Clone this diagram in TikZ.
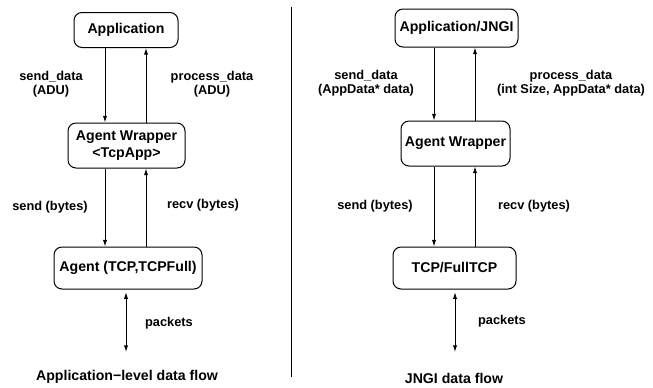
\documentclass[tikz,border=0pt]{standalone}
\usepackage{fontspec}
\setmainfont{Liberation Sans}
\usetikzlibrary{arrows.meta,calc}
\tikzset{every picture/.style={line width=0.75pt}}
\tikzset{
  blk/.style={draw, rounded corners=6pt, align=center, inner sep=1pt,
    font=\fontsize{10.6}{12.5}\selectfont\bfseries},
  lbl/.style={align=center, font=\fontsize{9.6}{10.6}\selectfont\bfseries},
  caption/.style={font=\fontsize{10.6}{12.5}\selectfont\bfseries},
  flow/.style={-{Latex[length=5pt,width=3.2pt]}},
  both/.style={{Latex[length=5pt,width=3.2pt]}-{Latex[length=5pt,width=3.2pt]}},
}

\begin{document}
\begin{tikzpicture}[x=0.75pt,y=0.75pt,yscale=-1,xscale=1]
\useasboundingbox (0,0) rectangle (653,387);

%% left side: application-level flow
% Boxes
\node[blk, minimum width=78pt, minimum height=26.25pt] (app) at (126,30) {Application};
\node[blk, minimum width=87.75pt, minimum height=33.75pt] (wrapL) at (126.5,145.5) {Agent Wrapper\\<TcpApp>};
\node[blk, minimum width=111pt, minimum height=31.5pt] (agentL) at (128,268) {Agent (TCP,TCPFull)};
\coordinate (netL) at (126,352);

% Connectors
\draw[flow] (app.south -| 105,0) -- (wrapL.north -| 105,0);
\draw[flow] (wrapL.north -| 146,0) -- (app.south -| 146,0);
\draw[flow] (wrapL.south -| 105,0) -- (agentL.north -| 105,0);
\draw[flow] (agentL.north -| 146,0) -- (wrapL.south -| 146,0);
\draw[both, shorten <=2pt] (agentL.south -| netL) -- (netL);

% Text Node
\node[lbl] (sdL) at (51,84) {send\_data\\(ADU)};
\node[lbl] (pdL) at (212,84) {process\_data\\(ADU)};
\node[lbl] (sbL) at (50,207) {send (bytes)};
\node[lbl] (rbL) at (203,205) {recv (bytes)};
\node[lbl] (pkL) at (169,323) {packets};
\node[caption] (capL) at (127,377) {Application−level data flow};

%% divider
\draw (291,7) -- (291,377);

%% right side: JNGI flow
% Boxes
\node[blk, minimum width=92.25pt, minimum height=28.5pt] (appR) at (456.5,28) {Application/JNGI};
\node[blk, minimum width=81.75pt, minimum height=33.75pt] (wrapR) at (455.5,143.5) {Agent Wrapper};
\node[blk, minimum width=92.25pt, minimum height=31.5pt] (agentR) at (454.5,268) {TCP/FullTCP};
\coordinate (netR) at (455,352);

% Connectors
\draw[flow] (appR.south -| 434,0) -- (wrapR.north -| 434,0);
\draw[flow] (wrapR.north -| 475,0) -- (appR.south -| 475,0);
\draw[flow] (wrapR.south -| 434,0) -- (agentR.north -| 434,0);
\draw[flow] (agentR.north -| 475,0) -- (wrapR.south -| 475,0);
\draw[both, shorten <=2pt] (agentR.south -| netR) -- (netR);

% Text Node
\node[lbl] (sdR) at (366,83) {send\_data\\(AppData* data)};
\node[lbl] (pdR) at (571,83) {process\_data\\(int Size, AppData* data)};
\node[lbl] (sbR) at (375,206) {send (bytes)};
\node[lbl] (rbR) at (534,206) {recv (bytes)};
\node[lbl] (pkR) at (502,321) {packets};
\node[caption] (capR) at (454,378) {JNGI data flow};

\end{tikzpicture}
\end{document}
